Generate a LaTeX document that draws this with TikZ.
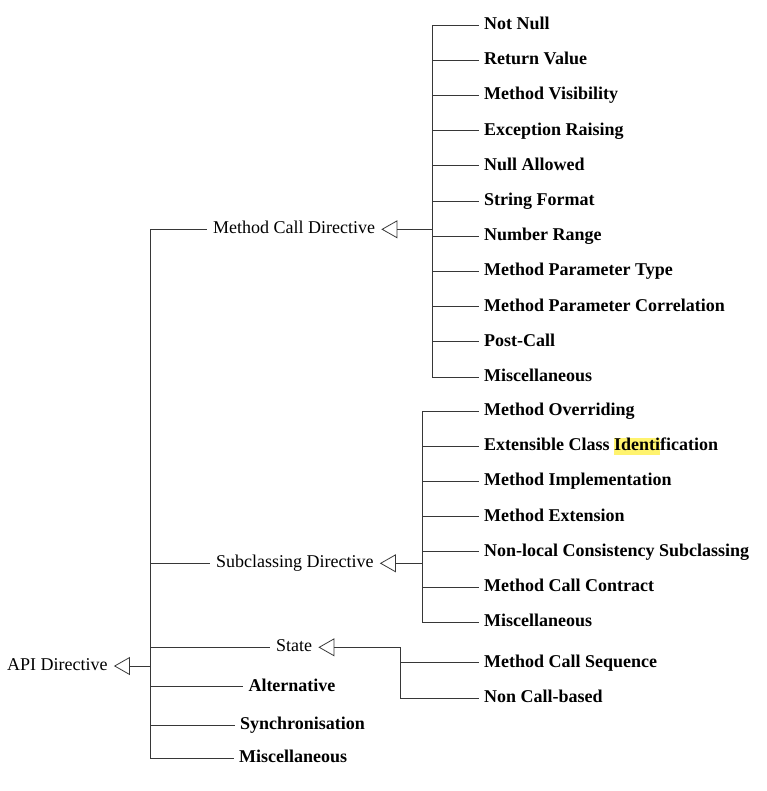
\documentclass[tikz,border=0pt]{standalone}
\usepackage{fontspec}
\setmainfont{Liberation Serif}
\usetikzlibrary{arrows.meta}
\definecolor{hlyellow}{RGB}{255,243,110}
\definecolor{linegray}{RGB}{55,55,55}
\newcommand\hlmark[1]{{\setlength{\fboxsep}{0pt}\colorbox{hlyellow}{\rule[-4pt]{0pt}{16.7pt}#1}}}
\begin{document}
\begin{tikzpicture}[x=1pt,y=-1pt,
  every node/.style={font=\fontsize{18}{22}\selectfont, inner ysep=0pt, text height=13pt, text depth=4pt, anchor=west},
  parent/.style={inner xsep=6pt},
  leaf/.style={inner xsep=5pt, font=\fontsize{18}{22}\selectfont\bfseries},
  conn/.style={draw=linegray, line width=0.8pt},
  inherit/.style={conn, -{Triangle[open, length=16pt, width=18pt, line width=0.8pt]}}]
\useasboundingbox (0,0) rectangle (766,791);

% API Directive root
\node[parent] (api) at (1,666) {API Directive};
\coordinate (apibus) at (150,666);

% Method Call Directive
\node[parent] (mcd) at (207,229.3) {Method Call Directive};
\coordinate (mcdbus) at (432,229.3);
\foreach \t [count=\i from 0] in {Not Null, Return Value, Method Visibility, Exception Raising, Null Allowed, String Format, Number Range, Method Parameter Type, Method Parameter Correlation, Post-Call, Miscellaneous} {
  \node[leaf] (m\i) at (479,{25+35.2*\i}) {\t};
  \draw[conn] (mcdbus) |- (m\i.west);
}
\draw[inherit] (mcdbus) -- (mcd.east);

% Subclassing Directive
\node[parent] (sd) at (210,563.3) {Subclassing Directive};
\coordinate (sdbus) at (422,563.3);
\foreach \t [count=\i from 0] in {Method Overriding, Extensible Class \hlmark{Identi}fication, Method Implementation, Method Extension, Non-local Consistency Subclassing, Method Call Contract, Miscellaneous} {
  \node[leaf] (s\i) at (479,{411+35.2*\i}) {\t};
  \draw[conn] (sdbus) |- (s\i.west);
}
\draw[inherit] (sdbus) -- (sd.east);

% State
\node[parent] (st) at (270,647.3) {State};
\coordinate (stbus) at (400,647.3);
\node[leaf] (t0) at (479,662.7) {Method Call Sequence};
\node[leaf] (t1) at (479,698.3) {Non Call-based};
\draw[conn] (stbus) |- (t0.west);
\draw[conn] (stbus) |- (t1.west);
\draw[inherit] (stbus) -- (st.east);

% Other leaves of API Directive
\node[leaf] (alt) at (243.3,686.7) {Alternative};
\node[leaf] (sync) at (235,725) {Synchronisation};
\node[leaf] (misc) at (234,758.3) {Miscellaneous};

\foreach \n in {mcd, sd, st, alt, sync, misc} {
  \draw[conn] (apibus) |- (\n.west);
}
\draw[inherit] (apibus) -- (api.east);
\end{tikzpicture}
\end{document}
